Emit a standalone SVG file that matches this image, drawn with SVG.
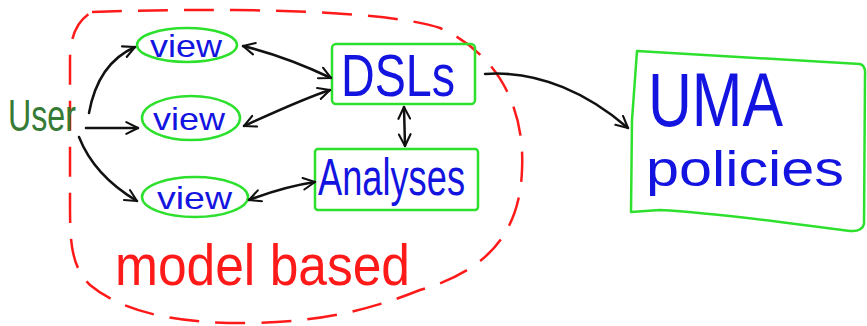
<svg xmlns="http://www.w3.org/2000/svg" width="867" height="326" viewBox="0 0 867 326">
<style>
.hand{font-family:"Liberation Sans","DejaVu Sans",sans-serif;}
.node{fill:none;stroke:#2ee02e;stroke-width:2.5;stroke-linejoin:round}
.lbl{fill:#1414e0}
.conn{fill:none;stroke:#111;stroke-width:2.5;stroke-linecap:round}
</style>
<defs>
<marker id="ah" viewBox="0 0 12 12" refX="11" refY="6" markerWidth="14" markerHeight="14" markerUnits="userSpaceOnUse" orient="auto-start-reverse">
<path d="M1,1 L11,6 L1,11" fill="none" stroke="#111" stroke-width="1.8" stroke-linecap="round" stroke-linejoin="round"/>
</marker>
</defs>
<rect width="867" height="326" fill="#fff"/>
<g id="boundary">
<path d="M 92 12 C 200 8, 380 8, 440 28 C 500 55, 525 110, 522 170 C 520 230, 490 270, 420 290 C 370 310, 320 322, 250 323 C 170 324, 120 310, 90 285 C 70 265, 70 240, 70 200 L 70 60 C 70 35, 78 20, 92 12 Z" fill="none" stroke="#ff1a1a" stroke-width="2.5" stroke-dasharray="30 16"/>
<text class="hand" x="115" y="285" font-size="58" textLength="295" lengthAdjust="spacingAndGlyphs" fill="#ff1a1a">model based</text>
</g>
<g id="user">
<text class="hand" x="8" y="131" font-size="44" textLength="68" lengthAdjust="spacingAndGlyphs" fill="#357a35">User</text>
</g>
<g id="view1">
<ellipse class="node" cx="187" cy="45" rx="50" ry="17"/>
<text class="hand lbl" x="150" y="57" font-size="32" textLength="72" lengthAdjust="spacingAndGlyphs">view</text>
</g>
<g id="view2">
<ellipse class="node" cx="191" cy="118" rx="49" ry="22"/>
<text class="hand lbl" x="153" y="130" font-size="32" textLength="72" lengthAdjust="spacingAndGlyphs">view</text>
</g>
<g id="view3">
<ellipse class="node" cx="195" cy="197" rx="53" ry="20"/>
<text class="hand lbl" x="157" y="209" font-size="32" textLength="75" lengthAdjust="spacingAndGlyphs">view</text>
</g>
<g id="dsls">
<rect class="node" x="332" y="44" width="143" height="60" rx="4"/>
<text class="hand lbl" x="341" y="96" font-size="60" textLength="114" lengthAdjust="spacingAndGlyphs">DSLs</text>
</g>
<g id="analyses">
<rect class="node" x="315" y="149" width="163" height="61" rx="3"/>
<text class="hand lbl" x="318" y="195" font-size="52" textLength="147" lengthAdjust="spacingAndGlyphs">Analyses</text>
</g>
<g id="uma">
<path class="node" d="M 637 51 L 860 64 Q 866 66 865 75 L 864 224 Q 862 232 850 231 L 780 222 Q 700 212 660 210 L 631 212 L 632 120 Z"/>
<text class="hand lbl" x="648" y="126" font-size="76" textLength="135" lengthAdjust="spacingAndGlyphs">UMA</text>
<text class="hand lbl" x="646" y="186" font-size="50" textLength="198" lengthAdjust="spacingAndGlyphs">policies</text>
</g>
<g id="connectors">
<path class="conn" d="M 89 113 C 95 80, 110 58, 135 47" marker-end="url(#ah)"/>
<path class="conn" d="M 86 128 L 138 128" marker-end="url(#ah)"/>
<path class="conn" d="M 79 137 C 90 165, 110 185, 137 201" marker-end="url(#ah)"/>
<path class="conn" d="M 243 46 C 280 55, 310 68, 331 78" marker-start="url(#ah)" marker-end="url(#ah)"/>
<path class="conn" d="M 244 126 C 275 112, 305 98, 330 90" marker-start="url(#ah)" marker-end="url(#ah)"/>
<path class="conn" d="M 249 200 C 270 192, 295 185, 315 182" marker-start="url(#ah)" marker-end="url(#ah)"/>
<path class="conn" d="M 404 107 L 405 146" marker-start="url(#ah)" marker-end="url(#ah)"/>
<path class="conn" d="M 485 74 C 540 70, 590 95, 628 128" marker-end="url(#ah)"/>
</g>
</svg>
